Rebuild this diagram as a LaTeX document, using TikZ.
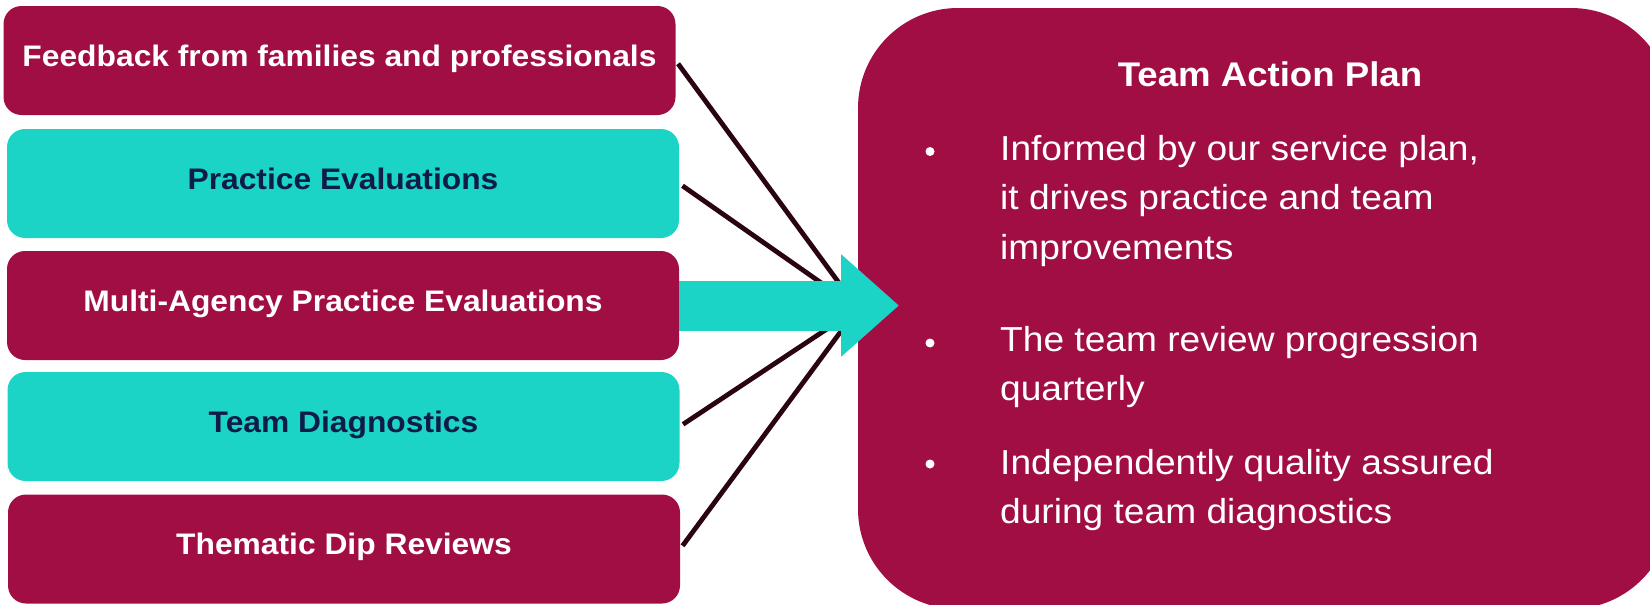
\documentclass[tikz,border=0pt]{standalone}
\usepackage{fontspec}
\setmainfont{Liberation Sans}[FakeStretch=1.07]
\usetikzlibrary{arrows.meta,positioning}

\definecolor{plum}{RGB}{160,14,68}
\definecolor{aqua}{RGB}{28,212,197}
\definecolor{ink}{RGB}{14,28,70}
\definecolor{wire}{RGB}{42,4,18}

\tikzset{
  src/.style={rounded corners=18pt,minimum width=672pt,minimum height=109pt,inner sep=0pt,
    font=\fontsize{29.7}{36}\selectfont\bfseries,text height=21pt,text depth=10pt},
  red src/.style={src,fill=plum,text=white},
  teal src/.style={src,fill=aqua,text=ink},
  feed/.style={draw=wire,line width=4.8pt,shorten <=4pt},
  % base of a multi-line point is the baseline of its last line
  point/.style={anchor=base west,align=left,text=white,inner sep=0pt,
    font=\fontsize{34.7}{49.5}\selectfont},
  dot/.style={circle,fill=white,minimum size=9pt,inner sep=0pt},
}

\begin{document}
\begin{tikzpicture}[x=1pt,y=-1pt]
\useasboundingbox (0,0) rectangle (1650,605);
\node[red src] (fb) at (339.5,60.5) {Feedback from families and professionals};
\node[teal src] (pe) at (343,183.5) {Practice Evaluations};
\node[red src] (mae) at (343,305.5) {Multi-Agency Practice Evaluations};
\node[teal src] (td) at (343.5,426.5) {Team Diagnostics};
\node[red src] (tdr) at (344,549) {Thematic Dip Reviews};
\node[fill=plum,rounded corners=100pt,minimum width=813pt,minimum height=601pt] (plan) at (1264.5,308.5) {};
\coordinate (tip) at (899,305.5);
\draw[feed] (fb.east) -- (plan.west);
\draw[feed] (pe.east) -- (plan.west);
\draw[feed] (td.east) -- (plan.west);
\draw[feed] (tdr.east) -- (plan.west);
\node[font=\fontsize{34.2}{40}\selectfont\bfseries,text=white,anchor=base,inner sep=0pt] (title) at (1270,86.7) {Team Action Plan};
\node[dot] (d1) at (930,151.5) {};
\node[point] (p1) at (1000,259) {Informed by our service plan,\\it drives practice and team\\improvements};
\node[dot] (d2) at (930,343) {};
\node[point] (p2) at (1000,400.5) {The team review progression\\quarterly};
\node[dot] (d3) at (930,464) {};
\node[point] (p3) at (1000,523.5) {Independently quality assured\\during team diagnostics};
\draw[aqua,line width=50pt,-{Triangle[length=58pt,width=99pt]}] (mae.east) -- (mae.east -| tip);
\end{tikzpicture}
\end{document}
